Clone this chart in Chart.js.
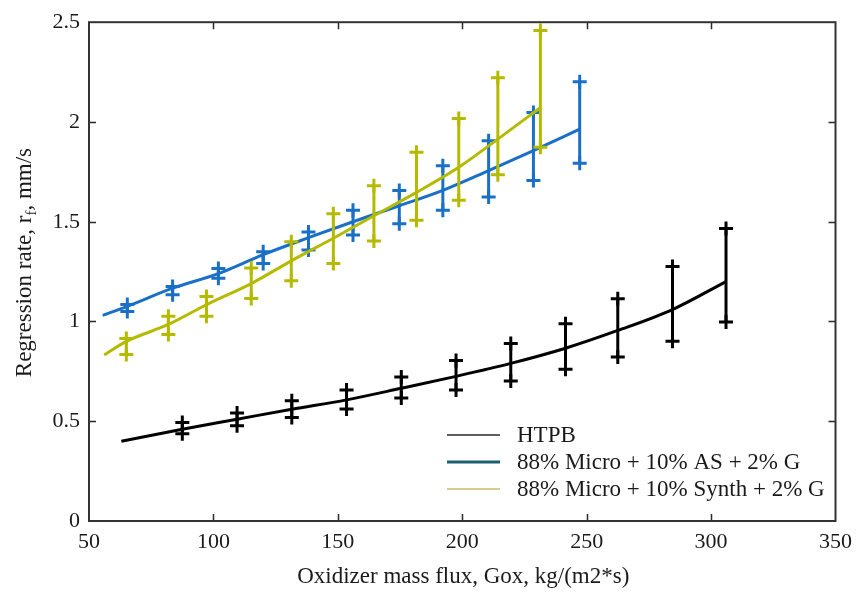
<!DOCTYPE html>
<html>
<head>
<meta charset="utf-8">
<script src="https://cdn.jsdelivr.net/npm/chart.js@4.4.0/dist/chart.umd.min.js"></script>
<style>
  html, body { margin: 0; padding: 0; background: #fff; }
  #wrap { width: 860px; height: 592px; }
</style>
</head>
<body>
<div id="wrap"><canvas id="chart" width="860" height="592"></canvas></div>
<script>
// ── Regression rate vs. oxidizer mass flux ──
// Each fuel has a fitted curve and a set of min/max spread bars.

const X_TICKS = [50, 100, 150, 200, 250, 300, 350];
const Y_TICKS = [0, 0.5, 1, 1.5, 2, 2.5];

const SERIES_NAMES = ["HTPB", "88% Micro + 10% AS + 2% G", "88% Micro + 10% Synth + 2% G"];

// HTPB
const htpbFitX = [63, 87.5, 109.5, 131.5, 153.5, 175.5, 197.5, 219.5, 241.5, 262.5, 284.5, 306];
const htpbFitY = [0.40, 0.460, 0.510, 0.560, 0.607, 0.665, 0.725, 0.790, 0.866, 0.955, 1.060, 1.200];
const htpbBarX = [87.5, 109.5, 131.5, 153.5, 175.5, 197.5, 219.5, 241.5, 262.5, 284.5, 306];
const htpbLow  = [0.437, 0.478, 0.519, 0.561, 0.616, 0.656, 0.702, 0.760, 0.822, 0.901, 0.998];
const htpbHigh = [0.494, 0.541, 0.603, 0.656, 0.722, 0.805, 0.890, 0.988, 1.114, 1.275, 1.466];

// 88% Micro + 10% AS + 2% G
const asFitX = [55.5, 65.4, 83.6, 102, 120, 138.2, 156.1, 174.7, 192.2, 210.6, 228.6, 247.2];
const asFitY = [1.031, 1.076, 1.167, 1.240, 1.335, 1.420, 1.500, 1.580, 1.657, 1.756, 1.856, 1.964];
const asBarX = [65.4, 83.6, 102, 120, 138.2, 156.1, 174.7, 192.2, 210.6, 228.6, 247.2];
const asLow  = [1.050, 1.134, 1.217, 1.290, 1.358, 1.433, 1.490, 1.557, 1.624, 1.707, 1.793];
const asHigh = [1.085, 1.175, 1.266, 1.350, 1.449, 1.557, 1.657, 1.781, 1.906, 2.047, 2.201];

// 88% Micro + 10% Synth + 2% G
const synFitX = [56.1, 65.0, 81.9, 97.2, 115.2, 131.3, 148.2, 164.5, 181.6, 198.6, 214.3, 231.2];
const synFitY = [0.832, 0.900, 0.985, 1.084, 1.190, 1.304, 1.417, 1.530, 1.647, 1.773, 1.914, 2.070];
const synBarX = [65.0, 81.9, 97.2, 115.2, 131.3, 148.2, 164.5, 181.6, 198.6, 214.3, 231.4];
const synLow  = [0.835, 0.935, 1.026, 1.115, 1.204, 1.291, 1.403, 1.507, 1.607, 1.736, 1.873];
const synHigh = [0.915, 1.026, 1.125, 1.268, 1.400, 1.540, 1.680, 1.848, 2.017, 2.221, 2.459];

const COLORS = {
    htpb: "#000000",
    as:   "#1a6fc6",
    syn:  "#b4ba00",
};
// legend swatches use their own muted tones
const LEGEND_SWATCH = [
    { color: "#2a2a2a", width: 1.6 },
    { color: "#1d5e74", width: 3 },
    { color: "#d8cc8e", width: 2 },
];

const TEXT_COLOR = "#1a1a1a";
const SERIF = "'Liberation Serif', 'Times New Roman', serif";


// ── dataset builders ──
function fitLine(label, xs, ys, color) {
    return {
        label,
        data: xs.map((x, i) => ({ x, y: ys[i] })),
        borderColor: color,
        borderWidth: 3,
        pointRadius: 0,
        cubicInterpolationMode: "monotone",
        fill: false,
    };
}

// vertical min/max bars with a "+" at both ends; null rows break the line
function spreadBars(xs, lo, hi, color) {
    const data = [];
    xs.forEach((x, i) => {
        data.push({ x, y: lo[i] }, { x, y: hi[i] }, { x, y: null });
    });
    return {
        label: "",
        data,
        borderColor: color,
        borderWidth: 3,
        spanGaps: false,
        pointStyle: "cross",
        pointRadius: 7,
        pointBorderWidth: 3,
        pointBorderColor: color,
        fill: false,
    };
}


// ── frame, inward ticks, axis titles, legend ──
const frameAndText = {
    id: "frameAndText",
    afterDraw(chart) {
        const { ctx, chartArea: a, scales: { x, y } } = chart;
        ctx.save();

        // inward tick marks on all four sides
        ctx.strokeStyle = "#2b2b2b";
        ctx.lineWidth = 1.5;
        ctx.beginPath();
        X_TICKS.slice(1, -1).forEach(v => {
            const px = Math.round(x.getPixelForValue(v)) + 0.5;
            ctx.moveTo(px, a.bottom); ctx.lineTo(px, a.bottom - 7);
            ctx.moveTo(px, a.top);    ctx.lineTo(px, a.top + 7);
        });
        Y_TICKS.slice(1, -1).forEach(v => {
            const py = Math.round(y.getPixelForValue(v)) + 0.5;
            ctx.moveTo(a.left, py);  ctx.lineTo(a.left + 7, py);
            ctx.moveTo(a.right, py); ctx.lineTo(a.right - 7, py);
        });
        ctx.stroke();

        // box
        ctx.lineWidth = 2;
        ctx.strokeStyle = "#333";
        ctx.strokeRect(a.left, a.top, a.right - a.left, a.bottom - a.top);

        ctx.fillStyle = TEXT_COLOR;
        ctx.textBaseline = "alphabetic";

        // x title
        ctx.font = `23px ${SERIF}`;
        ctx.textAlign = "center";
        ctx.fillText("Oxidizer mass flux, Gox, kg/(m2*s)", (a.left + a.right) / 2 + 1, 583);

        // y title with subscript f
        const parts = [
            { t: "Regression rate, r", size: 23, dy: 0 },
            { t: "f", size: 15, dy: 5 },
            { t: ", mm/s", size: 23, dy: 0 },
        ];
        let total = 0;
        parts.forEach(p => { ctx.font = `${p.size}px ${SERIF}`; p.w = ctx.measureText(p.t).width; total += p.w; });
        ctx.save();
        ctx.translate(31, (a.top + a.bottom) / 2 - 9);
        ctx.rotate(-Math.PI / 2);
        ctx.textAlign = "left";
        let cx = -total / 2;
        parts.forEach(p => {
            ctx.font = `${p.size}px ${SERIF}`;
            ctx.fillText(p.t, cx, p.dy);
            cx += p.w;
        });
        ctx.restore();

        // legend in the lower right of the plot
        const lx = a.left + 358, ty = a.bottom - 86, rowH = 27;
        ctx.font = `23px ${SERIF}`;
        ctx.textAlign = "left";
        ctx.textBaseline = "middle";
        SERIES_NAMES.forEach((name, i) => {
            const yy = ty + i * rowH;
            ctx.strokeStyle = LEGEND_SWATCH[i].color;
            ctx.lineWidth = LEGEND_SWATCH[i].width;
            ctx.beginPath();
            ctx.moveTo(lx, yy); ctx.lineTo(lx + 53, yy);
            ctx.stroke();
            ctx.fillStyle = TEXT_COLOR;
            ctx.fillText(name, lx + 70, yy + 1);
        });

        ctx.restore();
    },
};


// ── chart ──
const tickFont = { family: SERIF, size: 22 };

new Chart(document.getElementById("chart"), {
    type: "line",
    data: {
        datasets: [
            { ...fitLine(SERIES_NAMES[2], synFitX, synFitY, COLORS.syn), order: 1 },
            { ...spreadBars(synBarX, synLow, synHigh, COLORS.syn), order: 2 },
            { ...fitLine(SERIES_NAMES[1], asFitX, asFitY, COLORS.as), order: 3 },
            { ...spreadBars(asBarX, asLow, asHigh, COLORS.as), order: 4 },
            { ...fitLine(SERIES_NAMES[0], htpbFitX, htpbFitY, COLORS.htpb), order: 5 },
            { ...spreadBars(htpbBarX, htpbLow, htpbHigh, COLORS.htpb), order: 6 },
        ],
    },
    options: {
        responsive: false,
        animation: false,
        events: [],
        layout: { padding: { top: 19, right: 19, left: 0, bottom: 0 } },
        plugins: { legend: { display: false }, tooltip: { enabled: false } },
        scales: {
            x: {
                type: "linear",
                min: 50,
                max: 350,
                afterFit: s => { s.height = 71; },
                afterBuildTicks: s => { s.ticks = X_TICKS.map(v => ({ value: v })); },
                grid: { display: false, drawTicks: false },
                border: { display: false },
                ticks: { font: tickFont, color: TEXT_COLOR, padding: 8, maxRotation: 0, callback: v => String(v) },
            },
            y: {
                type: "linear",
                min: 0,
                max: 2.5,
                afterFit: s => { s.width = 89; },
                afterBuildTicks: s => { s.ticks = Y_TICKS.map(v => ({ value: v })); },
                grid: { display: false, drawTicks: false },
                border: { display: false },
                ticks: { font: tickFont, color: TEXT_COLOR, padding: 9, callback: v => String(v) },
            },
        },
    },
    plugins: [frameAndText],
});
</script>
</body>
</html>
